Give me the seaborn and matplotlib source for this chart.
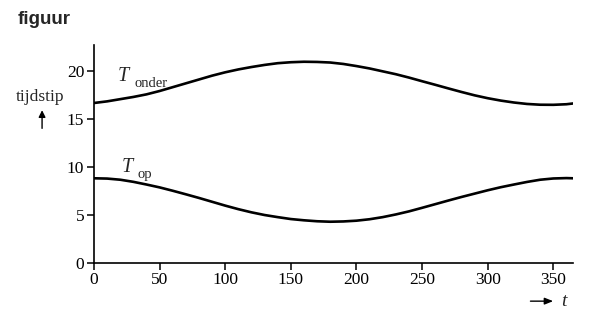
import matplotlib
matplotlib.use("Agg")
import matplotlib.pyplot as plt
import seaborn as sns
import pandas as pd

t = [0, 10, 20, 30, 40, 50, 60, 70, 80, 90, 100, 110, 120, 130, 140, 150, 160, 170, 180,
     190, 200, 210, 220, 230, 240, 250, 260, 270, 280, 290, 300, 310, 320, 330, 340, 350, 360, 365]
t_onder = [16.65, 16.82, 17.05, 17.28, 17.55, 17.9, 18.3, 18.7, 19.1, 19.5, 19.85, 20.15, 20.4,
           20.62, 20.8, 20.9, 20.95, 20.93, 20.87, 20.72, 20.5, 20.25, 19.95, 19.65, 19.3, 18.92,
           18.55, 18.17, 17.8, 17.45, 17.15, 16.9, 16.7, 16.55, 16.47, 16.46, 16.52, 16.6]
t_op = [8.8, 8.77, 8.65, 8.43, 8.15, 7.85, 7.5, 7.13, 6.75, 6.35, 5.95, 5.58, 5.25, 4.97, 4.75,
        4.55, 4.42, 4.32, 4.27, 4.3, 4.38, 4.53, 4.75, 5.03, 5.35, 5.72, 6.1, 6.48, 6.85, 7.2,
        7.55, 7.87, 8.15, 8.42, 8.65, 8.78, 8.82, 8.8]
x_ticks = [0, 50, 100, 150, 200, 250, 300, 350]
y_ticks = [0, 5, 10, 15, 20]

sns.set_style("ticks")
plt.rcParams["font.family"] = ["Liberation Serif", "DejaVu Serif"]
plt.rcParams["mathtext.fontset"] = "stix"

df = pd.DataFrame({"t": t + t, "v": t_onder + t_op,
                   "reeks": ["onder"] * len(t) + ["op"] * len(t)})

fig = plt.figure(figsize=(6.01, 3.16), dpi=100)
ax = fig.add_axes([0.1564, 0.1687, 0.797, 0.689])
sns.lineplot(data=df, x="t", y="v", units="reeks", estimator=None, color="black",
             linewidth=1.9, ax=ax, legend=False, sort=False)

ax.set_xlim(0, 365)
ax.set_ylim(0, 22.7)
ax.set_xticks(x_ticks)
ax.set_yticks(y_ticks)
ax.set_xlabel("")
ax.set_ylabel("")
for s in ["top", "right"]:
    ax.spines[s].set_visible(False)
for s in ["left", "bottom"]:
    ax.spines[s].set_linewidth(1.2)
    ax.spines[s].set_color("black")
ax.tick_params(axis="both", direction="out", length=5, width=1.1, labelsize=12.5,
               colors="black", pad=2)

ax.text(18.3, 18.93, "T", fontsize=14.5, fontstyle="italic", va="baseline")
ax.text(30.5, 18.3, "onder", fontsize=10.5, va="baseline")
ax.text(21.4, 9.45, "T", fontsize=14.5, fontstyle="italic", va="baseline")
ax.text(32.8, 8.82, "op", fontsize=10.5, va="baseline")

fig.text(0.03, 0.937, "figuur", fontsize=13.5, fontweight="bold",
         family=["Liberation Sans", "DejaVu Sans"], va="center", ha="left")
fig.text(0.066, 0.693, "tijdstip", fontsize=12.5, ha="center", va="center")
fig.patches.append(matplotlib.patches.FancyArrowPatch(
    (0.07, 0.585), (0.07, 0.66), transform=fig.transFigure, arrowstyle="-|>,head_length=4,head_width=2",
    color="black", linewidth=1.0, mutation_scale=1))
fig.patches.append(matplotlib.patches.FancyArrowPatch(
    (0.878, 0.047), (0.925, 0.047), transform=fig.transFigure, arrowstyle="-|>,head_length=5,head_width=2",
    color="black", linewidth=1.0, mutation_scale=1))
fig.text(0.933, 0.047, "t", fontsize=14, fontstyle="italic", ha="left", va="center")

fig.savefig("out.png", dpi=100, facecolor="white")
